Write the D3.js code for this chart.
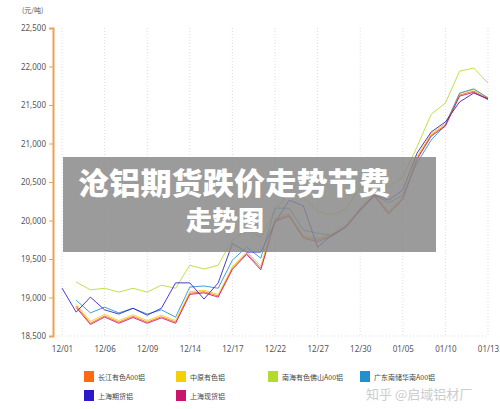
<!DOCTYPE html><html><head><meta charset="utf-8"><script src="https://cdn.jsdelivr.net/npm/d3@7"></script>
<style>body{margin:0;background:#fff}</style></head><body><svg id="c" width="500" height="409"></svg>
<script>
const tickLabels=["12/01","12/06","12/09","12/14","12/17","12/22","12/27","12/30","01/05","01/10","01/13"];
const yTicks=[18500,19000,19500,20000,20500,21000,21500,22000,22500];
const names=["长江有色A00铝","中原有色铝","南海有色佛山A00铝","广东南储华南A00铝","上海期货铝","上海现货铝"];
const colors=["#ff6a10","#f5cf00","#b3dc28","#1f90d0","#2a1ac8","#c8156e"];
const changjiang=[null,18890,18665,18760,18680,18755,18680,18750,18680,19055,19075,19020,19380,19575,19380,20005,20070,19785,19745,19810,19930,20150,20330,20100,20290,20810,21110,21240,21630,21680,21580];
const zhongyuan=[null,18910,18690,18780,18700,18775,18700,18770,18700,19075,19095,19040,19400,19595,19410,20025,20090,19805,19770,19830,19950,20170,20350,20120,20310,20830,21130,21260,21650,21700,21600];
const nanhai=[null,19200,19100,19120,19070,19120,19070,19160,19120,19420,19370,19420,19750,19880,19780,20140,20350,20300,20125,20070,20150,20435,20460,20435,20565,20955,21380,21525,21940,21980,21785];
const guangdong=[null,18965,18800,18875,18800,18860,18785,18840,18745,19135,19150,19120,19485,19655,19510,20160,20160,19875,19835,19810,19915,20130,20330,20230,20330,20745,21045,21240,21655,21710,21590];
const shqh=[19122,18810,19005,18840,18785,18860,18770,18860,19190,19190,18980,19190,19700,19590,19590,19970,20265,20190,19655,19810,19915,20140,20330,20265,20395,20875,21150,21280,21540,21655,21580];
const shxh=[null,18870,18650,18745,18665,18740,18665,18735,18665,19040,19060,19005,19365,19560,19360,19990,20055,19770,19725,19795,19915,20135,20315,20085,20275,20795,21095,21225,21615,21665,21570];
const series=[changjiang,zhongyuan,nanhai,guangdong,shqh,shxh];
const svg=d3.select("#c");
const x=d3.scaleLinear().domain([0,30]).range([62,488]);
const y=d3.scaleLinear().domain([18500,22500]).range([336,28]);
const g=svg.append("g");
g.selectAll(".gx").data(d3.range(0,31,3)).join("line").attr("x1",d=>x(d)).attr("x2",d=>x(d)).attr("y1",28).attr("y2",336).attr("stroke","#ddd").attr("stroke-dasharray","1,2");
g.append("line").attr("x1",53).attr("x2",488).attr("y1",336).attr("y2",336).attr("stroke","#ddd").attr("stroke-dasharray","1,2");
const ya=svg.append("g").attr("transform","translate(53,0)").call(d3.axisLeft(y).tickValues(yTicks).tickFormat(d3.format(",")).tickSize(4));
ya.select(".domain").attr("stroke","#f0a050").attr("stroke-width",2);
ya.selectAll(".tick line").attr("stroke","#f0a050");
ya.selectAll("text").attr("fill","#555").style("font-size","8px").style("font-family","Noto Sans");
const xa=svg.append("g").attr("transform","translate(0,336)").call(d3.axisBottom(x).tickValues(d3.range(0,31,3)).tickFormat((d,i)=>tickLabels[i]).tickSize(0).tickPadding(10));
xa.select(".domain").remove();
xa.selectAll("text").attr("fill","#555").style("font-size","8px").style("font-family","Noto Sans");
svg.append("text").attr("x",22).attr("y",13).text("(元/吨)").attr("fill","#555").style("font-size","7px").style("font-family","Noto Sans CJK SC");
const line=d3.line().defined(d=>d!=null).x((d,i)=>x(i)).y(d=>y(d));
series.forEach((s,k)=>svg.append("path").datum(s).attr("d",line).attr("fill","none").attr("stroke",colors[k]).attr("stroke-width",1).attr("opacity",0.85));
svg.append("rect").attr("x",63).attr("y",157).attr("width",373).attr("height",95).attr("fill","#8a8a8a").attr("opacity",0.85);
const tf="Noto Sans CJK SC";
svg.append("text").attr("x",78).attr("y",194).text("沧铝期货跌价走势节费").attr("fill","#fff").style("font-size","30px").style("font-weight","900").style("font-family",tf).attr("textLength",312).attr("lengthAdjust","spacingAndGlyphs");
svg.append("text").attr("x",186).attr("y",230).text("走势图").attr("fill","#fff").style("font-size","26px").style("font-weight","900").style("font-family",tf);
const lx=[84,176,268,360];
names.forEach((n,k)=>{const cx=lx[k%4],cy=k<4?371:390;
svg.append("rect").attr("x",cx).attr("y",cy).attr("width",10).attr("height",11).attr("fill",colors[k]);
svg.append("text").attr("x",cx+14).attr("y",cy+9).text(n).attr("fill","#444").style("font-size","7px").style("font-family",tf);});
svg.append("text").attr("x",366).attr("y",399).text("知乎 @启域铝材厂").attr("fill","#ccc").style("font-size","13px").style("font-family",tf);
</script></body></html>
